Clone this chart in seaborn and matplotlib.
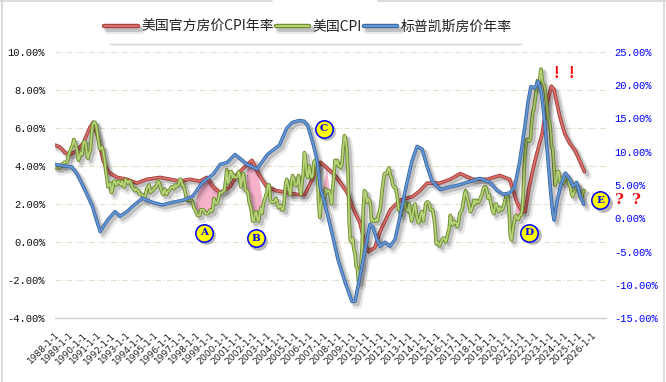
import numpy as np
import pandas as pd
import matplotlib
matplotlib.use("Agg")
import matplotlib.pyplot as plt
import matplotlib.patheffects as pe
import matplotlib.transforms as mtransforms
from matplotlib.lines import Line2D
import seaborn as sns

# ---------------- data ----------------
tick_years = list(range(1988, 2027))
tick_labels = [f"{y}-1-1" for y in tick_years]

series_names = ["美国官方房价CPI年率", "美国CPI", "标普凯斯房价年率"]

# US CPI YoY (%), monthly from 1988-01
cpi_start = 1988
cpi_values = [
    4.0, 3.9, 3.9, 3.9, 3.9, 4.0, 4.1, 4.0, 4.2, 4.2, 4.2, 4.4,
    4.7, 4.8, 5.0, 5.1, 5.4, 5.2, 5.0, 4.7, 4.3, 4.5, 4.7, 4.6,
    5.2, 5.3, 5.2, 4.7, 4.4, 4.7, 4.8, 5.6, 6.2, 6.3, 6.3, 6.1,
    5.7, 5.3, 4.9, 4.9, 5.0, 4.7, 4.4, 3.8, 3.4, 2.9, 3.0, 3.1,
    2.6, 2.8, 3.2, 3.2, 3.0, 3.1, 3.2, 3.1, 3.0, 3.2, 3.0, 2.9,
    3.3, 3.2, 3.1, 3.2, 3.2, 3.0, 2.8, 2.8, 2.7, 2.8, 2.7, 2.7,
    2.5, 2.5, 2.5, 2.4, 2.3, 2.5, 2.8, 2.9, 3.0, 2.6, 2.7, 2.7,
    2.8, 2.9, 2.9, 3.1, 3.2, 3.0, 2.8, 2.6, 2.5, 2.8, 2.6, 2.5,
    2.7, 2.7, 2.8, 2.9, 2.9, 2.8, 3.0, 2.9, 3.0, 3.0, 3.3, 3.3,
    3.0, 3.0, 2.8, 2.5, 2.2, 2.3, 2.2, 2.2, 2.2, 2.1, 1.8, 1.7,
    1.6, 1.4, 1.4, 1.4, 1.7, 1.7, 1.7, 1.6, 1.5, 1.5, 1.5, 1.6,
    1.7, 1.6, 1.7, 2.3, 2.1, 2.0, 2.1, 2.3, 2.6, 2.6, 2.6, 2.7,
    2.7, 3.2, 3.8, 3.1, 3.2, 3.7, 3.7, 3.4, 3.5, 3.4, 3.4, 3.4,
    3.7, 3.5, 2.9, 3.3, 3.6, 3.2, 2.7, 2.7, 2.6, 2.1, 1.9, 1.6,
    1.1, 1.1, 1.5, 1.6, 1.2, 1.1, 1.5, 1.8, 1.5, 2.0, 2.2, 2.4,
    2.6, 3.0, 3.0, 2.2, 2.1, 2.1, 2.1, 2.2, 2.3, 2.0, 1.8, 1.9,
    1.9, 1.7, 1.7, 2.3, 3.1, 3.3, 3.0, 2.7, 2.5, 3.2, 3.5, 3.3,
    3.0, 3.0, 3.1, 3.5, 2.8, 2.5, 3.2, 3.6, 4.7, 4.3, 3.5, 3.4,
    4.0, 3.6, 3.4, 3.5, 4.2, 4.3, 4.1, 3.8, 2.1, 1.3, 2.0, 2.5,
    2.1, 2.4, 2.8, 2.6, 2.7, 2.7, 2.4, 2.0, 2.8, 3.5, 4.3, 4.1,
    4.3, 4.0, 4.0, 3.9, 4.2, 5.0, 5.6, 5.4, 4.9, 3.7, 1.1, 0.1,
    0.0, 0.2, -0.4, -0.6, -1.3, -1.4, -2.1, -1.5, -1.3, -0.2, 1.8, 2.7,
    2.6, 2.1, 2.3, 2.2, 2.0, 1.1, 1.2, 1.1, 1.1, 1.2, 1.1, 1.5,
    1.6, 2.1, 2.7, 3.2, 3.6, 3.6, 3.6, 3.8, 3.9, 3.5, 3.4, 3.0,
    2.9, 2.9, 2.7, 2.3, 1.7, 1.7, 1.4, 1.7, 2.0, 2.2, 1.8, 1.7,
    1.6, 2.0, 1.5, 1.1, 1.4, 1.8, 2.0, 1.5, 1.2, 1.0, 1.2, 1.5,
    1.6, 1.1, 1.5, 2.0, 2.1, 2.1, 2.0, 1.7, 1.7, 1.7, 1.3, 0.8,
    -0.1, 0.0, -0.1, -0.2, 0.0, 0.1, 0.2, 0.2, 0.0, 0.2, 0.5, 0.7,
    1.4, 1.0, 0.9, 1.1, 1.0, 1.0, 0.8, 1.1, 1.5, 1.6, 1.7, 2.1,
    2.5, 2.7, 2.4, 2.2, 1.9, 1.6, 1.7, 1.9, 2.2, 2.0, 2.2, 2.1,
    2.1, 2.2, 2.4, 2.5, 2.8, 2.9, 2.9, 2.7, 2.3, 2.5, 2.2, 1.9,
    1.6, 1.5, 1.9, 2.0, 1.8, 1.6, 1.8, 1.7, 1.7, 1.8, 2.1, 2.3,
    2.5, 2.3, 1.5, 0.3, 0.1, 0.6, 1.0, 1.3, 1.4, 1.2, 1.2, 1.4,
    1.4, 1.7, 2.6, 4.2, 5.0, 5.4, 5.4, 5.3, 5.4, 6.2, 6.8, 7.0,
    7.5, 7.9, 8.5, 8.3, 8.6, 9.1, 8.5, 8.3, 8.2, 7.7, 7.1, 6.5,
    6.4, 6.0, 5.0, 4.9, 4.0, 3.0, 3.2, 3.7, 3.7, 3.2, 3.1, 3.4,
    3.1, 3.2, 3.5, 3.4, 3.3, 3.0, 2.9, 2.5, 2.4, 2.6, 2.7, 2.9,
    3.0, 2.8, 2.4, 2.3, 2.4, 2.7, 2.7,
]

# Official house-price CPI YoY (%), read at irregular dates
red_t = [1988.0, 1988.35, 1988.7, 1989.05, 1989.55, 1990.0, 1990.45, 1990.7,
         1991.05, 1991.4, 1991.75, 1992.4, 1993.1, 1993.8, 1994.5, 1995.45,
         1996.15, 1996.85, 1997.55, 1998.25, 1998.75, 1999.2, 1999.7, 2000.4,
         2000.95, 2001.65, 2001.95, 2002.4, 2003.0, 2003.7, 2004.45, 2005.15,
         2005.7, 2006.4, 2006.8, 2007.25, 2007.7, 2008.05, 2008.7, 2009.1,
         2009.6, 2009.95, 2010.2, 2010.65, 2011.0, 2011.75, 2012.45, 2013.35,
         2013.85, 2014.35, 2015.25, 2016.0, 2016.7, 2017.6, 2018.6, 2019.5,
         2020.2, 2020.7, 2021.1, 2021.3, 2021.55, 2022.0, 2022.5, 2022.85,
         2023.15, 2023.35, 2023.75, 2024.1, 2024.45, 2024.85, 2025.2, 2025.5]
red_v = [5.1, 5.0, 4.7, 4.6, 4.8, 5.2, 6.0, 6.3,
         5.5, 4.3, 3.7, 3.4, 3.3, 3.1, 3.3, 3.4,
         3.3, 3.2, 3.3, 3.2, 3.4, 2.9, 2.6, 2.9,
         3.6, 4.1, 4.3, 3.6, 2.9, 2.7, 2.6, 2.5,
         2.5, 3.6, 4.2, 3.9, 3.6, 3.3, 2.6, 1.8,
         1.0, -0.1, -0.5, -0.3, 0.5, 1.7, 2.2, 2.4,
         2.7, 3.1, 3.1, 3.3, 3.6, 3.3, 3.3, 3.5,
         3.3, 2.1, 1.6, 1.6, 2.8, 4.3, 5.7, 7.3,
         8.2, 8.0, 6.6, 5.7, 5.2, 4.8, 4.2, 3.7]

# S&P Case-Shiller home price YoY (%), right axis
blue_t = [1988.0, 1988.55, 1989.2, 1989.6, 1990.0, 1990.35, 1990.65, 1990.9,
          1991.2, 1991.5, 1991.75, 1992.25, 1992.6, 1993.1, 1993.5, 1994.2,
          1994.9, 1995.6, 1996.35, 1997.05, 1997.75, 1998.45, 1999.2, 1999.7,
          2000.2, 2000.75, 2001.2, 2001.6, 2002.3, 2003.05, 2003.9, 2004.4,
          2004.8, 2005.3, 2005.65, 2005.9, 2006.25, 2006.55, 2006.77, 2007.26,
          2007.6, 2008.04, 2008.54, 2009.03, 2009.25, 2009.46, 2009.74, 2010.1,
          2010.31, 2010.52, 2010.8, 2011.02, 2011.37, 2011.73, 2012.08, 2012.29,
          2012.58, 2012.93, 2013.28, 2013.64, 2014.0, 2014.35, 2014.7, 2015.05,
          2015.3, 2015.95, 2016.6, 2017.2, 2018.1, 2018.8, 2019.3, 2019.75,
          2020.2, 2020.55, 2020.9, 2021.25, 2021.5, 2021.7, 2022.0, 2022.2,
          2022.45, 2022.65, 2022.85, 2023.1, 2023.25, 2023.35, 2023.55, 2023.85,
          2024.15, 2024.45, 2024.7, 2024.95, 2025.2, 2025.45]
blue_v = [8.1, 7.9, 7.7, 6.5, 4.8, 3.2, 1.8, 0.0,
          -2.0, -1.0, -0.2, 1.0, 0.3, 1.0, 1.8, 3.0,
          2.4, 2.0, 2.4, 2.7, 3.3, 5.4, 6.6, 8.1,
          8.4, 9.6, 8.8, 8.1, 7.4, 9.6, 11.0, 13.5,
          14.4, 14.7, 14.6, 13.9, 11.4, 8.9, 4.8, 0.9,
          -2.1, -6.2, -9.6, -12.5, -12.5, -10.2, -7.2, -3.2,
          -0.9, -1.4, -3.2, -4.2, -3.6, -4.2, -3.2, -1.2,
          1.8, 5.4, 8.6, 10.8, 10.4, 7.8, 5.6, 4.8,
          4.3, 4.7, 5.0, 5.4, 6.0, 5.4, 4.2, 3.6,
          3.8, 4.7, 8.4, 13.4, 17.5, 19.8, 19.6, 20.6,
          18.9, 15.0, 10.4, 4.0, 0.8, -0.3, 2.5, 5.2,
          6.8, 5.9, 4.8, 5.4, 3.3, 2.1]

left_ticks = [10, 8, 6, 4, 2, 0, -2, -4]
right_ticks = [25, 20, 15, 10, 5, 0, -5, -10, -15]

highlight_ranges = [(1997.9, 1999.8), (2001.45, 2002.75), (2006.9, 2007.6), (2020.5, 2021.1)]
letter_marks = [("A", 1998.55, 0.5), ("B", 2002.2, 0.2), ("C", 2007.05, 5.95),
                ("D", 2021.6, 0.5), ("E", 2026.6, 2.2)]
bang_marks = [(2023.5, 8.9), (2024.6, 8.9)]
question_marks = [(2028.0, 2.2), (2029.15, 2.2)]

# ---------------- style ----------------
sns.set_style("white")
plt.rcParams["font.family"] = ["Noto Sans CJK SC", "DejaVu Sans"]

W, H = 666, 382
fig = plt.figure(figsize=(W / 100, H / 100), dpi=100)
ax = fig.add_axes([55 / W, 1 - 318 / H, (606 - 55) / W, (318 - 52) / H])
ax2 = ax.twinx()

cpi_t = [cpi_start + i / 12 for i in range(len(cpi_values))]
df_cpi = pd.DataFrame({"t": cpi_t, "v": cpi_values})
df_red = pd.DataFrame({"t": red_t, "v": red_v})
df_blue = pd.DataFrame({"t": blue_t, "v": blue_v})

colors = {
    "red": ("#d9706c", "#a33f3c"),
    "green": ("#b7d27a", "#6c8c2c"),
    "blue": ("#6595d2", "#3a68a5"),
}


def effects(edge, w=2.6):
    return [
        pe.SimpleLineShadow(offset=(2.5, -3.0), shadow_color="black", alpha=0.09, linewidth=w + 2.5),
        pe.SimpleLineShadow(offset=(2.0, -2.0), shadow_color="black", alpha=0.17, linewidth=w + 0.3),
        pe.Stroke(linewidth=w, foreground=edge),
        pe.Normal(),
    ]


# pink highlighted areas between red and green
for (x0, x1) in highlight_ranges:
    gx = [t for t in cpi_t if x0 <= t <= x1]
    gy = [v for t, v in zip(cpi_t, cpi_values) if x0 <= t <= x1]
    rx = [t for t in red_t if x0 <= t <= x1]
    ry = [v for t, v in zip(red_t, red_v) if x0 <= t <= x1]
    ax.fill(gx + rx[::-1], gy + ry[::-1], color="#f5a9c6", alpha=0.9, lw=0, zorder=1)

sns.lineplot(data=df_red, x="t", y="v", ax=ax, color=colors["red"][0], lw=1.3,
             path_effects=effects(colors["red"][1]), zorder=3, legend=False)
sns.lineplot(data=df_cpi, x="t", y="v", ax=ax, color=colors["green"][0], lw=1.3,
             path_effects=effects(colors["green"][1]), zorder=4, legend=False)
sns.lineplot(data=df_blue, x="t", y="v", ax=ax2, color=colors["blue"][0], lw=1.3,
             path_effects=effects(colors["blue"][1], w=2.5), zorder=5, legend=False)

# axes
ax.set_xlim(1988.0, 1988.0 + 551 / 14.12)
ax.set_ylim(-4, 10)
ax2.set_ylim(-15, 25)
ax.set_xlabel("")
ax.set_ylabel("")
ax2.set_ylabel("")

mono = "Liberation Mono"
ax.set_yticks(left_ticks)
ax.set_yticklabels([f"{v:.2f}%" for v in left_ticks], fontfamily=mono, fontsize=7.6, color="#111111")
ax2.set_yticks(right_ticks)
ax2.set_yticklabels([f"{v:.2f}%" for v in right_ticks], fontfamily=mono, fontsize=7.6, color="#0000ff")
ax.tick_params(axis="y", length=0, pad=7)
ax2.tick_params(axis="y", length=0, pad=6)

ax.set_xticks(tick_years)
ax.set_xticklabels(tick_labels, rotation=45, ha="right", va="top", rotation_mode="anchor",
                   fontsize=6.6, fontfamily="DejaVu Sans", color="#222222")
ax.tick_params(axis="x", length=4, width=0.8, color="#c8c8c8", pad=5)

ax.yaxis.grid(True, linestyle=(0, (5, 2, 1, 2)), color="#e4e0cc", lw=0.8)
ax.xaxis.grid(False)
ax.set_axisbelow(True)
for s in ["top", "left", "right"]:
    ax.spines[s].set_visible(False)
ax.spines["bottom"].set_color("#cfcfcf")
ax.spines["bottom"].set_linewidth(1.0)
for s in ax2.spines.values():
    s.set_visible(False)

# letter markers: shadowed yellow discs with blue letters
shadow_tr = mtransforms.offset_copy(ax.transData, fig=fig, x=2.5, y=-2.5, units="dots")
for letter, x, y in letter_marks:
    ax2.plot([x], [y], transform=shadow_tr, marker="o", ms=13.5, mfc=(0.2, 0.2, 0.2, 0.35),
             mec="none", ls="none", zorder=9, clip_on=False)
    ax2.plot([x], [y], transform=ax.transData, marker="o", ms=12.5, mfc="#ffff00",
             mec="#0000ff", mew=1.1, ls="none", zorder=10, clip_on=False)
    ax2.text(x, y, letter, transform=ax.transData, ha="center", va="center", fontsize=7.5,
             fontweight="bold", fontfamily="DejaVu Serif", color="#0000ff",
             zorder=11, clip_on=False)

for x, y in bang_marks:
    ax2.text(x, y, "!", transform=ax.transData, ha="center", va="center", fontsize=11,
             fontweight="bold", color="#ff0000", zorder=10, clip_on=False)
for x, y in question_marks:
    ax2.text(x, y, "?", transform=ax.transData, ha="center", va="center", fontsize=11,
             fontweight="bold", fontfamily="DejaVu Serif", color="#ee1111", zorder=10, clip_on=False)

# legend
handles = []
for key in ["red", "green", "blue"]:
    handles.append(Line2D([], [], color=colors[key][0], lw=1.5,
                          path_effects=effects(colors[key][1], w=3.2)))
fig.legend(handles, series_names, loc="center", bbox_to_anchor=(308 / W, 1 - 27 / H),
           ncol=3, frameon=False, handlelength=2.4, handletextpad=0.25, columnspacing=0.15,
           prop={"family": ["Noto Sans CJK SC", "DejaVu Sans"], "size": 10}, labelcolor="#222222")

# chart frame lines
border = "#d6d6d6"
fig.add_artist(Line2D([1.5 / W, 1.5 / W], [0, 1], transform=fig.transFigure, color=border, lw=1.2))
fig.add_artist(Line2D([664 / W, 664 / W], [0, 1], transform=fig.transFigure, color=border, lw=1.2))
fig.add_artist(Line2D([0, 272 / W], [1 - 1 / H, 1 - 1 / H], transform=fig.transFigure, color=border, lw=1.2))
fig.add_artist(Line2D([378 / W, 1], [1 - 1 / H, 1 - 1 / H], transform=fig.transFigure, color=border, lw=1.2))
fig.add_artist(Line2D([110 / W, 521 / W], [1 - 44 / H, 1 - 44 / H], transform=fig.transFigure, color=border, lw=1.0))

fig.savefig("out.png", dpi=100)
